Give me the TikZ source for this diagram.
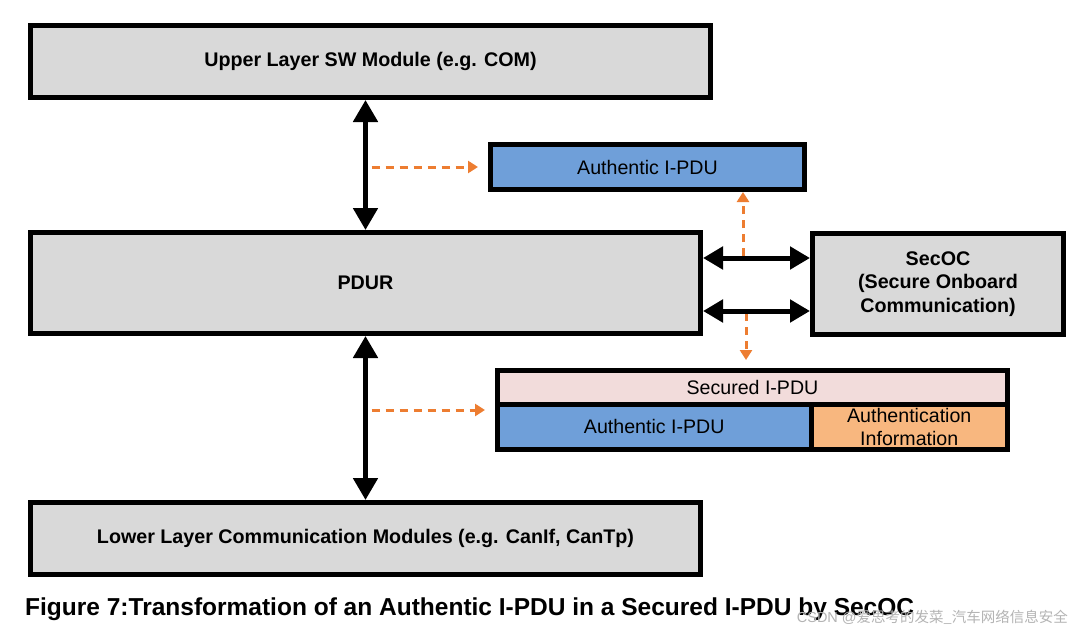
\documentclass[tikz,border=0pt]{standalone}
\usepackage{fontspec}
\setmainfont{Liberation Sans}
\newfontfamily\cjkfont{Noto Sans CJK SC}
\usetikzlibrary{arrows.meta}
\definecolor{boxgray}{HTML}{D9D9D9}
\definecolor{pdublue}{HTML}{6F9FD9}
\definecolor{pdupink}{HTML}{F2DCDB}
\definecolor{pduorange}{HTML}{F8B77F}
\definecolor{arrowor}{HTML}{ED7D31}
\definecolor{wmark}{HTML}{B4B4B4}
\begin{document}
\begin{tikzpicture}[x=1pt,y=-1pt,
  box/.style={draw=black, line width=5pt, fill=boxgray, inner sep=0pt, align=center,
    font=\fontsize{19.7}{23.5}\selectfont\bfseries},
  pdubox/.style={draw=black, line width=5pt, inner sep=0pt, align=center,
    font=\fontsize{19.6}{23}\selectfont},
  dbl/.style={line width=5pt, {Triangle[length=22pt,width=24pt]}-{Triangle[length=22pt,width=24pt]}},
  hdbl/.style={line width=5pt, {Triangle[length=20pt,width=22pt]}-{Triangle[length=20pt,width=22pt]}},
  odash/.style={draw=arrowor, line width=3pt, dash pattern=on 8pt off 6pt, -{Triangle[length=10pt,width=12pt]}},
]
\useasboundingbox[fill=white] (0,0) rectangle (1080,632);

% boxes
\node[box, minimum width=680pt, minimum height=72pt] (up) at (370.5,61.5) {Upper Layer SW Module (e.g. COM)};
\node[box, minimum width=670pt, minimum height=101pt] (pdur) at (365.5,283) {PDUR};
\node[box, minimum width=251pt, minimum height=101pt] (secoc) at (938,284) {SecOC\\(Secure Onboard\\Communication)};
\node[box, minimum width=670pt, minimum height=72pt] (low) at (365.5,538.5) {Lower Layer Communication Modules (e.g. CanIf, CanTp)};

\node[pdubox, fill=pdublue, minimum width=314pt, minimum height=45pt] (auth) at (647.5,167) {Authentic I-PDU};

\node[pdubox, fill=pdupink, minimum width=510pt, minimum height=33.5pt] (sec) at (752.5,387.25) {Secured I-PDU};
\node[pdubox, fill=pdublue, minimum width=313.5pt, minimum height=45.5pt] (secA) at (654.25,426.75) {Authentic I-PDU};
\node[pdubox, fill=pduorange, minimum width=196.5pt, minimum height=45.5pt] (secB) at (909.25,426.75) {Authentication\\Information};

% orange dashed arrows
\coordinate (u1) at (743,256);
\coordinate (d1) at (746,313);
\draw[odash] (u1) -- (u1 |- auth.south);
\draw[odash, shorten >=8pt] (d1) -- (d1 |- sec.north);
\draw[odash, shorten <=6pt, shorten >=10pt] (pdur.north |- 0,167) -- (auth.west |- 0,167);
\draw[odash, shorten <=6pt, shorten >=10pt] (pdur.south |- 0,410) -- (secA.west |- 0,410);

% black double arrows
\draw[dbl] (pdur.north |- up.south) -- (pdur.north);
\draw[dbl] (pdur.south) -- (pdur.south |- low.north);
\draw[hdbl] (pdur.east |- 0,258) -- (secoc.west |- 0,258);
\draw[hdbl] (pdur.east |- 0,311) -- (secoc.west |- 0,311);

% caption
\node[anchor=base west, inner sep=0pt, font=\fontsize{24.5}{28}\selectfont\bfseries] (cap) at (25,615)
  {Figure 7:Transformation of an Authentic I-PDU in a Secured I-PDU by SecOC};
\node[anchor=base east, inner sep=0pt, text=wmark, font=\fontsize{14.5}{17}\selectfont] (wm) at (1068,622)
  {CSDN @{\cjkfont 爱思考的发菜\_汽车网络信息安全}};
\end{tikzpicture}
\end{document}
